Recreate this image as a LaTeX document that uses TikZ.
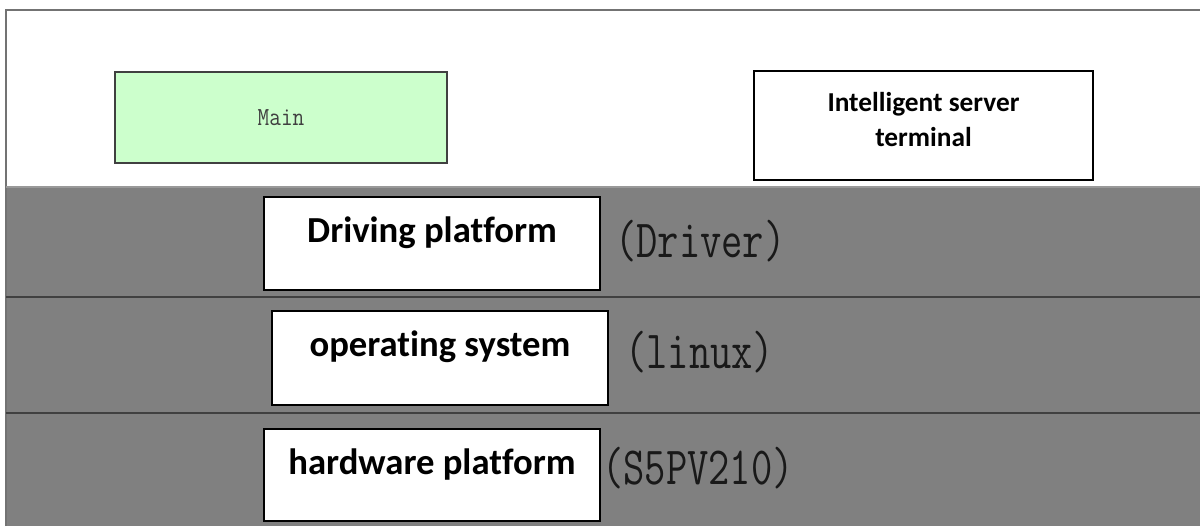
\documentclass[tikz,border=0pt]{standalone}
\usepackage{fontspec}
\usepackage{graphicx}
\newfontfamily\lblfont[Ligatures=NoCommon]{Carlito}
\newfontfamily\codefont{Latin Modern Mono}
\definecolor{bandgray}{HTML}{808080}
\definecolor{mainfill}{HTML}{CCFFCC}
\tikzset{
  mainbox/.style={draw=black!75, line width=0.8pt, fill=mainfill, minimum width=249pt, minimum height=68.25pt,
    font=\codefont\fontsize{17}{20}\selectfont, text=black!75},
  whitebox/.style={draw=black, line width=1.1pt, fill=white},
  layerbox/.style={whitebox, minimum width=252pt, minimum height=69.75pt},
  layerlbl/.style={anchor=base, font=\lblfont\bfseries\fontsize{27.5}{32}\selectfont},
  srvlbl/.style={align=center, font=\lblfont\bfseries\fontsize{20.5}{26}\selectfont},
  bandlbl/.style={anchor=base west, inner sep=0pt, text=black!90, font=\codefont\fontsize{31}{34}\selectfont}
}
\begin{document}
\begin{tikzpicture}[x=0.75pt,y=-0.75pt]
\useasboundingbox (0,0) rectangle (1200,526);
\fill[white] (0,0) rectangle (1200,526);
\fill[bandgray] (6,187) rectangle (1200,526);
\draw[line width=1.8pt, black!55] (6,526) -- (6,10) -- (1200,10);
\draw[line width=1pt, black!40] (6,187) -- (1200,187);
\draw[line width=1.5pt, black!75] (6,297) -- (1200,297);
\draw[line width=1.5pt, black!75] (6,413) -- (1200,413);

\node[mainbox] (main) at (281,117.5) {\scalebox{1}[1.15]{Main}};
\node[whitebox, minimum width=254.25pt, minimum height=81.75pt] (server) at (923.5,125.5) {};
\node[srvlbl] (servertext) at (923.5,119.5) {Intelligent server\\terminal};

\node[layerbox] (drvbox) at (432,243.5) {};
\node[layerlbl] (drvtext) at ([yshift=-34.5pt]drvbox.north) {Driving platform};
\node[bandlbl] (drvnote) at (615,257) {\scalebox{1}[1.3]{(Driver)}};

\node[layerbox, minimum height=70.5pt] (osbox) at (440,358) {};
\node[layerlbl] (ostext) at ([yshift=-34.5pt]osbox.north) {operating system};
\node[bandlbl] (osnote) at (625,368) {\scalebox{1}[1.3]{(linux)}};

\node[layerbox, minimum height=69pt] (hwbox) at (432,475) {};
\node[layerlbl] (hwtext) at ([yshift=-34.5pt]hwbox.north) {hardware platform};
\node[bandlbl] (hwnote) at (602,484) {\scalebox{1}[1.3]{(S5PV210)}};
\end{tikzpicture}
\end{document}
